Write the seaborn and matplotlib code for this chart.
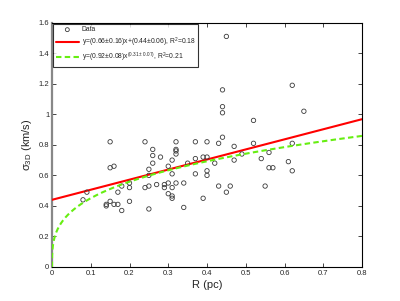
import numpy as np
import pandas as pd
import matplotlib
matplotlib.use('Agg')
import matplotlib.pyplot as plt
import seaborn as sns

# =============================================================================
# 1. DADOS
# =============================================================================
raio_pc = [0.08, 0.09, 0.14, 0.14, 0.15, 0.15, 0.15, 0.16, 0.16, 0.17,
           0.17, 0.18, 0.18, 0.20, 0.20, 0.20, 0.24, 0.24, 0.25, 0.25,
           0.25, 0.25, 0.26, 0.26, 0.26, 0.27, 0.28, 0.29, 0.29, 0.30,
           0.30, 0.30, 0.31, 0.31, 0.31, 0.31, 0.31, 0.32, 0.32, 0.32,
           0.32, 0.32, 0.34, 0.34, 0.35, 0.37, 0.37, 0.37, 0.39, 0.39,
           0.40, 0.40, 0.40, 0.40, 0.42, 0.43, 0.43, 0.44, 0.44, 0.44,
           0.44, 0.45, 0.45, 0.46, 0.47, 0.47, 0.49, 0.52, 0.52, 0.54,
           0.55, 0.56, 0.56, 0.57, 0.61, 0.62, 0.62, 0.62, 0.65]
sigma_3d = [0.44, 0.49, 0.41, 0.40, 0.82, 0.65, 0.43, 0.66, 0.41, 0.49,
            0.41, 0.53, 0.37, 0.55, 0.52, 0.43, 0.82, 0.52, 0.64, 0.60,
            0.53, 0.38, 0.77, 0.73, 0.68, 0.54, 0.72, 0.54, 0.52, 0.66,
            0.55, 0.48, 0.70, 0.61, 0.52, 0.465, 0.45, 0.82, 0.77, 0.76,
            0.74, 0.55, 0.55, 0.39, 0.68, 0.82, 0.71, 0.61, 0.72, 0.45,
            0.82, 0.72, 0.63, 0.60, 0.68, 0.81, 0.53, 0.85, 1.16, 1.05,
            1.01, 1.51, 0.49, 0.53, 0.79, 0.70, 0.74, 0.96, 0.81, 0.71,
            0.53, 0.75, 0.65, 0.65, 0.69, 1.19, 0.81, 0.63, 1.02]

# coeficientes dos ajustes (da legenda)
lin_a, lin_b = 0.66, 0.44
pot_a, pot_n = 0.92, 0.31

df = pd.DataFrame({'R': raio_pc, 'sigma': sigma_3d})

# mais pontos perto de zero para a curva de potência descer até a origem
x_fit = np.concatenate([[0.0], np.geomspace(1e-5, 0.8, 500)])
ajustes = pd.DataFrame({'x': x_fit,
                        'linear': lin_a * x_fit + lin_b,
                        'potencia': pot_a * x_fit ** pot_n})

# =============================================================================
# 2. GRÁFICO
# =============================================================================
sns.set_theme(style="white")
plt.rcParams['font.family'] = ['Liberation Sans', 'DejaVu Sans']
plt.rcParams['mathtext.fontset'] = 'custom'
plt.rcParams['mathtext.rm'] = 'Liberation Sans'
plt.rcParams['mathtext.default'] = 'regular'

fig = plt.figure(figsize=(4.0, 3.01), dpi=100)
ax = fig.add_axes([0.13, 0.113, 0.775, 0.8116])

sns.scatterplot(data=df, x='R', y='sigma', ax=ax, marker='o', s=10,
                fc='none', ec='#3a3a3a', linewidth=0.6, label='Data', zorder=3)
sns.lineplot(data=ajustes, x='x', y='linear', ax=ax, color='#ff0000',
             linewidth=1.5, label=r'y=(0.66$\pm$0.16)x+(0.44$\pm$0.06), R$^2$=0.18', zorder=2)
sns.lineplot(data=ajustes, x='x', y='potencia', ax=ax, color='#66ee11',
             linewidth=1.5, linestyle=(0, (2.6, 1.6)),
             label=r'y=(0.92$\pm$0.08)x$^{(0.31\pm0.07)}$, R$^2$=0.21', zorder=4)

ax.set_xlim(0, 0.8)
ax.set_ylim(0, 1.6)
ax.set_xticks(np.arange(0, 0.81, 0.1))
ax.set_xticklabels(['0', '0.1', '0.2', '0.3', '0.4', '0.5', '0.6', '0.7', '0.8'])
ax.set_yticks(np.arange(0, 1.61, 0.2))
ax.set_yticklabels(['0', '0.2', '0.4', '0.6', '0.8', '1', '1.2', '1.4', '1.6'])
ax.tick_params(direction='in', length=3, width=0.6, labelsize=5.5,
               top=True, right=True, bottom=True, left=True, pad=2)

ax.set_xlabel('R (pc)', fontsize=8, labelpad=2)
ax.set_ylabel(r'$\sigma_{3D}$ (km/s)', fontsize=8, labelpad=3)

for lado in ['top', 'right', 'bottom']:
    ax.spines[lado].set_color('black')
    ax.spines[lado].set_linewidth(0.8)
ax.spines['left'].set_color('#888888')
ax.spines['left'].set_linewidth(1.6)
ax.spines['left'].set_zorder(1)

leg = ax.legend(loc='upper left', fontsize=4.9, frameon=True, fancybox=False,
                edgecolor='black', borderaxespad=0.2, handlelength=3.4,
                borderpad=0.35, labelspacing=0.3, handletextpad=0.4,
                markerscale=0.9)
leg.get_frame().set_linewidth(0.8)

fig.savefig('out.png', dpi=100)
plt.close(fig)
